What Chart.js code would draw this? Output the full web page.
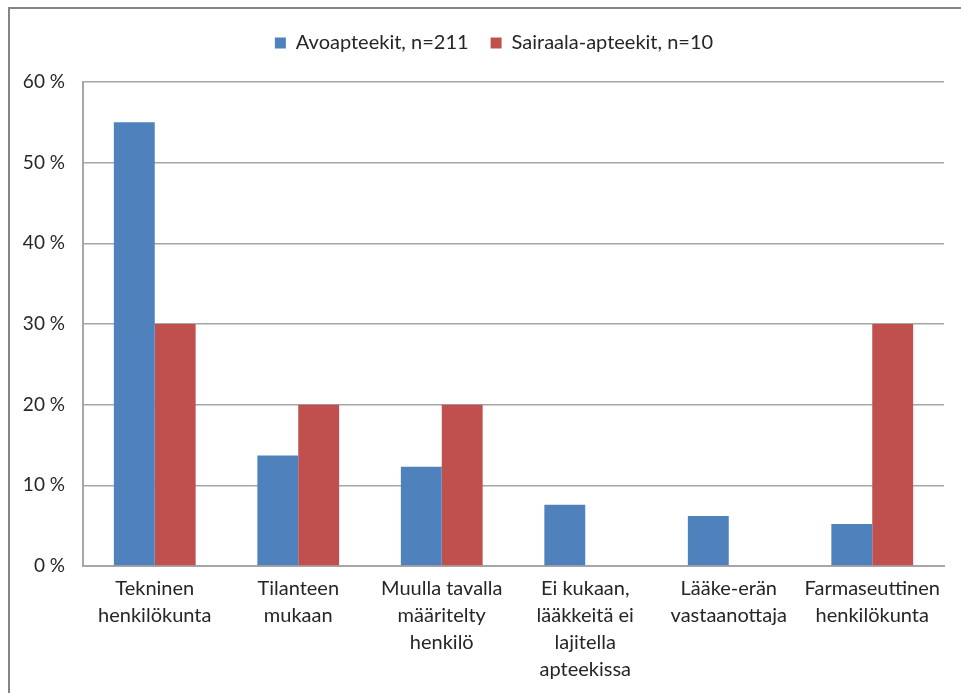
<!DOCTYPE html>
<html>
<head>
<meta charset="utf-8">
<title>Lääkkeiden lajittelu</title>
<script src="https://cdn.jsdelivr.net/npm/chart.js@4"></script>
<style>
  html, body { margin: 0; padding: 0; background: #fff; }
  #wrap { position: relative; width: 961px; height: 693px; overflow: hidden; }
  #frame {
    position: absolute; left: 8px; top: 7px; width: 1000px; height: 1000px;
    border-left: 2px solid #858585; border-top: 2px solid #858585;
    pointer-events: none;
  }
  canvas { position: absolute; left: 0; top: 0; }
</style>
</head>
<body>
<div id="wrap">
  <canvas id="chart" width="961" height="693"></canvas>
  <div id="frame"></div>
</div>
<script>
const categories = [
  ["Tekninen", "henkilökunta"],
  ["Tilanteen", "mukaan"],
  ["Muulla tavalla", "määritelty", "henkilö"],
  ["Ei kukaan,", "lääkkeitä ei", "lajitella", "apteekissa"],
  ["Lääke-erän", "vastaanottaja"],
  ["Farmaseuttinen", "henkilökunta"],
];
const avoapteekit = [55, 13.7, 12.3, 7.6, 6.2, 5.2];
const sairaalaApteekit = [30, 20, 20, 0, 0, 30];
const seriesNames = ["Avoapteekit, n=211", "Sairaala-apteekit, n=10"];
const yTicks = [0, 10, 20, 30, 40, 50, 60];

const fontFamily = "Lato, 'Open Sans', sans-serif";
const textColor = "#262626";
const gridColor = "#a6a6a6";

// extra room under the legend, and nudge it a bit to the right
const legendSpacer = {
  id: "legendSpacer",
  beforeInit(chart) {
    const fit = chart.legend.fit;
    chart.legend.fit = function () {
      fit.call(this);
      this.height += 19;
    };
  },
  afterLayout(chart) {
    chart.legend.left += 22;
    chart.legend.right += 22;
  },
};

new Chart(document.getElementById("chart"), {
  type: "bar",
  data: {
    labels: categories,
    datasets: [
      {
        label: seriesNames[0],
        data: avoapteekit,
        backgroundColor: "#4f81bd",
        barPercentage: 1,
        categoryPercentage: 0.57,
      },
      {
        label: seriesNames[1],
        data: sairaalaApteekit,
        backgroundColor: "#c0504d",
        barPercentage: 1,
        categoryPercentage: 0.57,
      },
    ],
  },
  plugins: [legendSpacer],
  options: {
    responsive: false,
    animation: false,
    layout: { padding: { top: 11, right: 17, left: 0, bottom: 0 } },
    plugins: {
      tooltip: { enabled: false },
      legend: {
        position: "top",
        labels: {
          color: textColor,
          font: { family: fontFamily, size: 20 },
          boxWidth: 11,
          boxHeight: 11,
          padding: 22,
        },
      },
    },
    scales: {
      x: {
        grid: { display: false, drawTicks: false },
        border: { color: gridColor, width: 2 },
        ticks: {
          color: textColor,
          font: { family: fontFamily, size: 20, lineHeight: 1.35 },
          padding: 9,
          maxRotation: 0,
          autoSkip: false,
        },
        afterFit: (scale) => { scale.height = 127; },
      },
      y: {
        min: 0,
        max: 60,
        afterBuildTicks: (scale) => { scale.ticks = yTicks.map((v) => ({ value: v })); },
        grid: { color: gridColor, lineWidth: 1.5, drawTicks: false },
        border: { color: gridColor, width: 2 },
        ticks: {
          color: textColor,
          font: { family: fontFamily, size: 19 },
          padding: 18,
          callback: (v) => v + " %",
        },
        afterFit: (scale) => { scale.width = 83; },
      },
    },
  },
});
</script>
</body>
</html>
